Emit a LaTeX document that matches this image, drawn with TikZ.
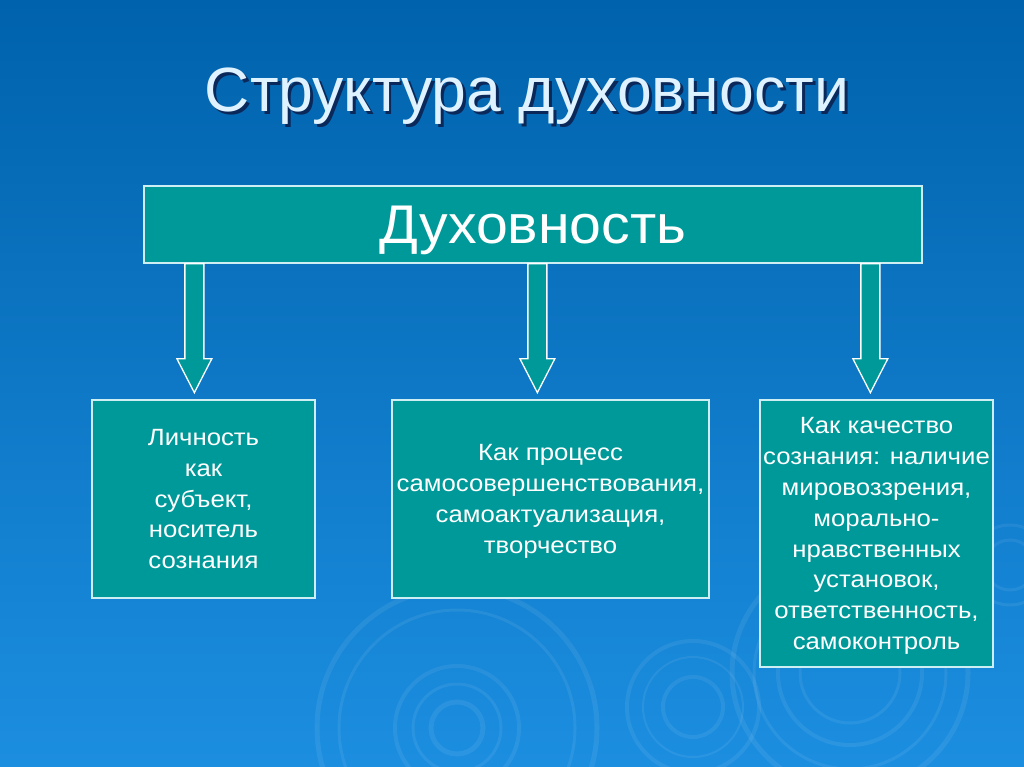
\documentclass[tikz,border=0pt]{standalone}
\usepackage{fontspec}
\setmainfont{Liberation Sans}
\newfontfamily\boxfont[FakeStretch=1.095]{Liberation Sans}
\newfontfamily\mainfont[FakeStretch=1.05]{Liberation Sans}
\usetikzlibrary{calc}
\definecolor{bgtop}{RGB}{0,98,172}
\definecolor{bgbot}{RGB}{28,142,224}
\definecolor{teal1}{RGB}{0,153,153}
\definecolor{edge1}{RGB}{205,238,242}
\definecolor{titlecol}{RGB}{222,242,255}
\definecolor{shadowcol}{RGB}{10,40,90}
\newcommand{\shadowed}[1]{\makebox[0pt][l]{\hspace{3pt}\raisebox{-3pt}{\textcolor{shadowcol}{#1}}}#1}
\tikzset{
  tbox/.style={draw=edge1, line width=1.3pt, fill=teal1, text=white, align=center, inner sep=0pt,
    font=\boxfont\fontsize{23.5}{30.9}\selectfont, text depth=0pt},
  blockarrow/.style={draw=white, line width=1.3pt, fill=teal1, line join=miter},
  ripple/.style={draw=white, opacity=0.07},
}
\begin{document}
\begin{tikzpicture}[x=1pt,y=-1pt]
\useasboundingbox (0,0) rectangle (1024,767);
\shade[top color=bgtop, bottom color=bgbot] (0,0) rectangle (1024,767);
% ripples
\begin{scope}
\clip (0,0) rectangle (1024,767);
\foreach \r/\w in {140/5,118/3,62/4,44/3,26/5}{\draw[ripple, line width=\w pt] (457,728) circle (\r);}
\foreach \r/\w in {66/4,50/2,30/4}{\draw[ripple, line width=\w pt] (693,707) circle (\r);}
\foreach \r/\w in {118/5,96/3,72/4,50/3}{\draw[ripple, line width=\w pt] (850,673) circle (\r);}
\foreach \r/\w in {40/3,25/3}{\draw[ripple, line width=\w pt] (1010,565) circle (\r);}
\end{scope}
% title
\node[text=titlecol, font=\fontsize{62.5}{70}\selectfont, anchor=base] (title) at (527,112) {\shadowed{Структура духовности}};
% main box
\node[tbox, minimum width=778pt, minimum height=77pt, font=\mainfont\fontsize{54.5}{60}\selectfont] (main) at (533,224.5) {Духовность};
% lower boxes
\node[tbox, minimum width=223pt, minimum height=198pt] (b1) at (203.5,499) {Личность\\как\\субъект,\\носитель\\ сознания};
\node[tbox, minimum width=317pt, minimum height=198pt, text depth=-4pt] (b2) at (550.5,499) {Как процесс\\самосовершенствования,\\самоактуализация,\\творчество};
\node[tbox, minimum width=233pt, minimum height=267pt, text depth=-4pt] (b3) at (876.5,533.5) {Как качество\\сознания: наличие\\мировоззрения,\\морально-\\нравственных\\установок,\\ответственность,\\самоконтроль};
% arrows
\coordinate (a1s) at ($(main.south west)+(51,0)$);
\coordinate (a2s) at ($(main.south west)+(394,0)$);
\coordinate (a3s) at ($(main.south west)+(727,0)$);
\coordinate (a1e) at ($(a1s)+(0,129)$);
\coordinate (a2e) at ($(a2s)+(0,129)$);
\coordinate (a3e) at ($(a3s)+(0,129)$);
\foreach \i in {1,2,3}{
  \draw[blockarrow] (a\i s) ++(-9.5,0) -- ++(0,95) -- ++(-8,0) -- (a\i e) -- ++(17.5,-34) -- ++(-8,0) -- ++(0,-95) -- cycle;
}
\end{tikzpicture}
\end{document}
